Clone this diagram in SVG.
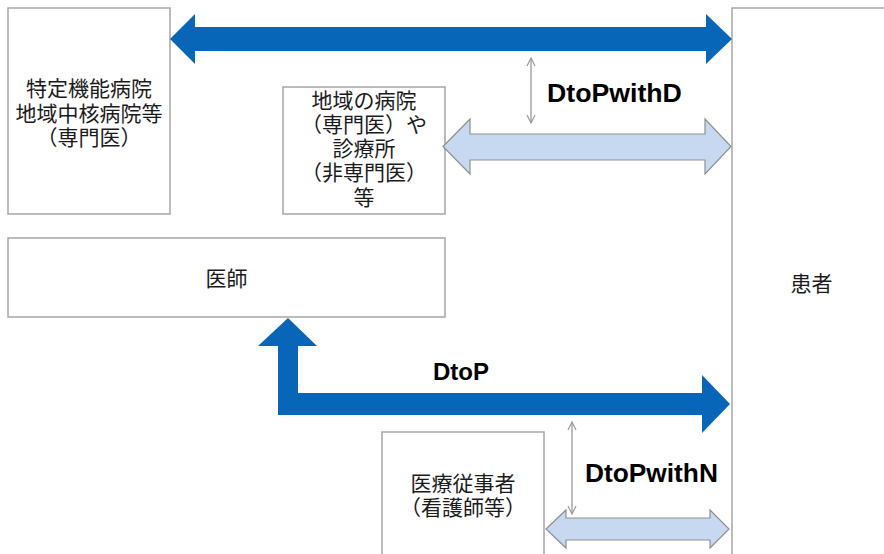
<svg xmlns="http://www.w3.org/2000/svg" width="884" height="554" viewBox="0 0 884 554">
<style>
.box{fill:#ffffff;stroke:#a6a6a6;stroke-width:1.5}
.jp{font-family:"Noto Sans CJK JP","Noto Sans",sans-serif;font-size:21px;fill:#1a1a1a;text-anchor:middle}
.lbl{font-family:"Liberation Sans",Arial,sans-serif;font-weight:bold;fill:#000000}
.blue{fill:#0866b8;stroke:none}
.light{fill:#c6d9f1;stroke:#8f8f8f;stroke-width:1.2;stroke-linejoin:miter}
.thin{stroke:#9a9a9a;stroke-width:1.3;fill:none}
</style>
<defs>
<marker id="vh" viewBox="0 0 10 10" refX="9" refY="5" markerWidth="10" markerHeight="10" markerUnits="userSpaceOnUse" orient="auto-start-reverse">
<path d="M1,1 L9,5 L1,9" fill="none" stroke="#9a9a9a" stroke-width="1.2"/>
</marker>
</defs>
<rect width="884" height="554" fill="#ffffff"/>
<g id="node-specialist">
<rect class="box" x="8" y="8" width="162" height="206"/>
<text class="jp"><tspan x="89" y="96">特定機能病院</tspan><tspan x="89" y="121">地域中核病院等</tspan><tspan x="89" y="145">（専門医）</tspan></text>
</g>
<g id="node-local">
<rect class="box" x="283" y="87" width="162" height="127"/>
<text class="jp"><tspan x="364" y="108">地域の病院</tspan><tspan x="364" y="132">（専門医）や</tspan><tspan x="364" y="156">診療所</tspan><tspan x="364" y="180">（非専門医）</tspan><tspan x="364" y="205">等</tspan></text>
</g>
<g id="node-doctor">
<rect class="box" x="8" y="238" width="437" height="79"/>
<text class="jp" x="226.5" y="286">医師</text>
</g>
<g id="node-patient">
<rect class="box" x="732" y="8" width="170" height="560"/>
<text class="jp" x="811.5" y="291">患者</text>
</g>
<g id="node-nurse">
<rect class="box" x="382" y="432" width="162" height="140"/>
<text class="jp"><tspan x="463" y="491">医療従事者</tspan><tspan x="463" y="515">（看護師等）</tspan></text>
</g>
<g id="connectors">
<polygon class="blue" points="170,39 195,14 195,27 706,27 706,14 732,39 706,64 706,51 195,51 195,64"/>
<polygon class="light" points="443,146.5 470,119 470,134 705,134 705,119 731,146.5 705,174 705,160 470,160 470,174"/>
<line class="thin" x1="531" y1="58" x2="531" y2="123" marker-start="url(#vh)" marker-end="url(#vh)"/>
<text class="lbl" x="547" y="102" font-size="26.7">DtoPwithD</text>
<polygon class="blue" points="288,318 317,346 298,346 298,393 702,393 702,375 730,404 702,433 702,415 278,415 278,346 258,346"/>
<text class="lbl" x="433" y="380" font-size="24">DtoP</text>
<polygon class="light" points="546,529 566,510 566,518 710,518 710,510 729,529 710,548 710,540 566,540 566,548"/>
<line class="thin" x1="572" y1="422" x2="572" y2="514" marker-start="url(#vh)" marker-end="url(#vh)"/>
<text class="lbl" x="585" y="482" font-size="26.3">DtoPwithN</text>
</g>
</svg>
